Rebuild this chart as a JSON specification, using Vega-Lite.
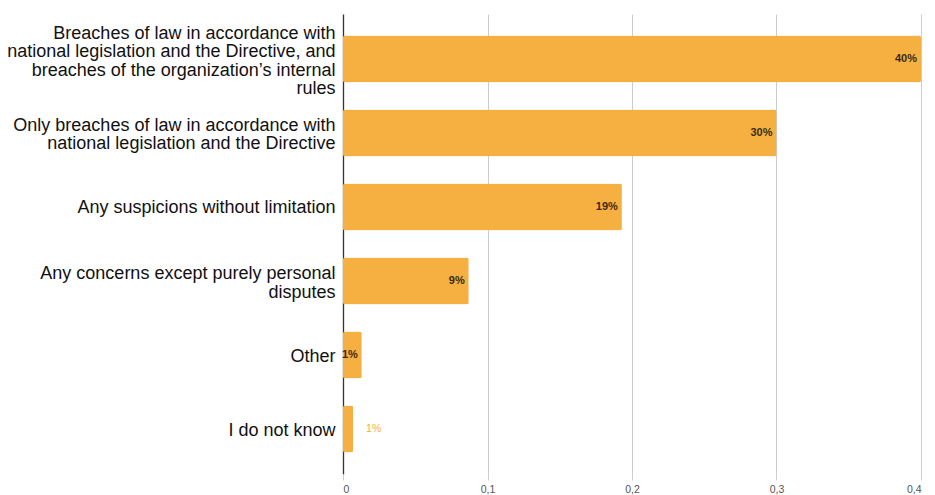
{
  "$schema": "https://vega.github.io/schema/vega-lite/v6.json",
  "width": 578,
  "height": 460,
  "autosize": "none",
  "padding": {"left": 343, "top": 14, "right": 14, "bottom": 21},
  "background": "white",
  "config": {"view": {"stroke": null}, "font": "Liberation Sans"},
  "data": {"values": [
    {"category": "Breaches of law in accordance with|national legislation and the Directive, and|breaches of the organization’s internal|rules", "value": 0.40, "label": "40%"},
    {"category": "Only breaches of law in accordance with|national legislation and the Directive", "value": 0.30, "label": "30%"},
    {"category": "Any suspicions without limitation", "value": 0.193, "label": "19%"},
    {"category": "Any concerns except purely personal|disputes", "value": 0.087, "label": "9%"},
    {"category": "Other", "value": 0.013, "label": "1%"},
    {"category": "I do not know", "value": 0.007, "label": "1%"}
  ]},
  "encoding": {
    "y": {
      "field": "category", "type": "nominal", "sort": null,
      "scale": {"paddingInner": 0.365, "paddingOuter": 0.29},
      "axis": {
        "title": null, "domain": false, "ticks": false, "labelPadding": 8,
        "labelFontSize": 18, "labelColor": "#111", "labelLineHeight": 18.5,
        "labelExpr": "split(datum.label, '|')", "labelLimit": 340,
        "labelOffset": {
          "condition": [
            {"test": "length(split(datum.value, '|')) == 4", "value": -25},
            {"test": "length(split(datum.value, '|')) == 2", "value": -7}
          ],
          "value": 1.5
        }
      }
    }
  },
  "layer": [
    {
      "mark": {"type": "bar", "color": "#F5B041", "cornerRadius": 2},
      "encoding": {
        "x": {
          "field": "value", "type": "quantitative",
          "scale": {"domain": [0, 0.4], "nice": false},
          "axis": {
            "title": null, "values": [0, 0.1, 0.2, 0.3, 0.4],
            "labelExpr": "datum.value == 0 ? '0' : replace(format(datum.value, '.1f'), '.', ',')",
            "domain": false, "tickSize": 6, "tickColor": "#ccc", "labelColor": "#555", "labelFontSize": 10.5, "labelPadding": 4,
            "gridColor": {"condition": {"test": "datum.value === 0", "value": "#333"}, "value": "#ccc"},
            "gridWidth": {"condition": {"test": "datum.value === 0", "value": 1.3}, "value": 1}
          }
        }
      }
    },
    {
      "transform": [{"filter": "datum.value >= 0.01"}],
      "mark": {"type": "text", "align": "right", "dx": -4, "fontSize": 11, "fontWeight": "bold", "color": "#3a2a10"},
      "encoding": {"x": {"field": "value", "type": "quantitative"}, "text": {"field": "label"}}
    },
    {
      "transform": [{"filter": "datum.value < 0.01"}],
      "mark": {"type": "text", "align": "left", "dx": 13, "fontSize": 10.5, "color": "#F5B041"},
      "encoding": {"x": {"field": "value", "type": "quantitative"}, "text": {"field": "label"}}
    }
  ]
}
